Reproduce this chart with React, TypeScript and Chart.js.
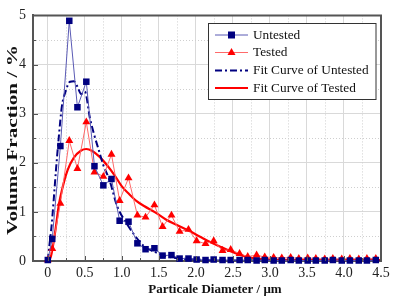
import React, { useEffect, useRef } from "react";
import { Chart, registerables } from "chart.js";

Chart.register(...registerables);

// Particle diameter (µm) sample grid
const xValues = [0.00, 0.06, 0.17, 0.29, 0.40, 0.52, 0.63, 0.75, 0.86, 0.97, 1.09, 1.21, 1.32, 1.44, 1.55, 1.67, 1.78, 1.90, 2.01, 2.13, 2.24, 2.36, 2.47, 2.59, 2.70, 2.82, 2.93, 3.05, 3.16, 3.28, 3.39, 3.51, 3.62, 3.74, 3.85, 3.97, 4.08, 4.20, 4.31, 4.43];
const untestedValues = [0.02, 0.45, 2.34, 4.89, 3.13, 3.65, 1.93, 1.54, 1.67, 0.82, 0.80, 0.36, 0.24, 0.26, 0.11, 0.12, 0.05, 0.05, 0.03, 0.02, 0.03, 0.02, 0.02, 0.02, 0.02, 0.01, 0.02, 0.01, 0.01, 0.02, 0.01, 0.01, 0.01, 0.01, 0.02, 0.01, 0.01, 0.01, 0.01, 0.02];
const testedValues = [0.02, 0.25, 1.17, 2.45, 1.88, 2.83, 1.81, 1.72, 2.17, 1.23, 1.69, 0.93, 0.89, 1.14, 0.70, 0.93, 0.60, 0.64, 0.41, 0.35, 0.41, 0.21, 0.23, 0.15, 0.09, 0.12, 0.08, 0.07, 0.06, 0.07, 0.05, 0.06, 0.05, 0.04, 0.05, 0.04, 0.05, 0.04, 0.05, 0.05];

const fitUntestedX = [0.00, 0.02, 0.05, 0.08, 0.11, 0.15, 0.19, 0.24, 0.30, 0.35, 0.40, 0.45, 0.50, 0.57, 0.63, 0.69, 0.75, 0.83, 0.94, 1.05, 1.16, 1.30, 1.45, 1.60, 1.80, 2.00, 2.50, 3.00, 3.50, 4.00, 4.50];
const fitUntestedY = [0.00, 0.30, 0.70, 1.25, 1.85, 2.55, 3.15, 3.45, 3.65, 3.66, 3.55, 3.40, 3.45, 2.90, 2.55, 2.25, 1.95, 1.66, 1.10, 0.80, 0.55, 0.30, 0.18, 0.10, 0.05, 0.03, 0.01, 0.01, 0.00, 0.00, 0.00];

const fitTestedX = [0.00, 0.04, 0.10, 0.15, 0.20, 0.27, 0.35, 0.45, 0.52, 0.60, 0.70, 0.80, 0.90, 1.00, 1.10, 1.20, 1.30, 1.45, 1.60, 1.75, 1.90, 2.05, 2.20, 2.35, 2.50, 2.65, 2.80, 3.00, 3.50, 4.00, 4.50];
const fitTestedY = [0.00, 0.08, 0.60, 1.15, 1.50, 1.86, 2.10, 2.25, 2.28, 2.24, 2.12, 1.95, 1.75, 1.52, 1.36, 1.22, 1.12, 0.99, 0.84, 0.73, 0.62, 0.50, 0.38, 0.28, 0.18, 0.10, 0.05, 0.03, 0.02, 0.02, 0.02];

const seriesLabels = ["Untested", "Tested", "Fit Curve of Untested", "Fit Curve of Tested"];
const xTitle = "Particale Diameter / \u03bcm";
const yTitle = "Volume Fraction / %";

const SERIF = "'Liberation Serif', 'Times New Roman', serif";
const NAVY = "#000080";
const RED = "#ff0000";

const toPts = (xs: number[], ys: number[]) => xs.map((x, i) => ({ x, y: ys[i] }));

const decorPlugin = {
  id: "decor",
  beforeDatasetsDraw(chart: any) {
    const { ctx, chartArea: a, scales } = chart;
    const xs = scales.x, ys = scales.y;
    ctx.save();
    ctx.strokeStyle = "#cfcfcf";
    ctx.lineWidth = 1;
    ctx.setLineDash([1, 2]);
    for (let v = 0.25; v < 4.5; v += 0.5) {
      const px = Math.round(xs.getPixelForValue(v)) + 0.5;
      ctx.beginPath(); ctx.moveTo(px, a.top); ctx.lineTo(px, a.bottom); ctx.stroke();
    }
    for (let v = 0.5; v < 5; v += 1) {
      const py = Math.round(ys.getPixelForValue(v)) + 0.5;
      ctx.beginPath(); ctx.moveTo(a.left, py); ctx.lineTo(a.right, py); ctx.stroke();
    }
    ctx.restore();
  },
  afterDraw(chart: any) {
    const { ctx, chartArea: a, scales } = chart;
    const xs = scales.x, ys = scales.y;
    ctx.save();
    // inner tick marks
    ctx.strokeStyle = "#555";
    ctx.lineWidth = 1;
    for (let v = 0; v <= 4.5001; v += 0.25) {
      const px = Math.round(xs.getPixelForValue(v)) + 0.5;
      const len = Math.abs(v * 2 - Math.round(v * 2)) < 1e-6 ? 5 : 3;
      ctx.beginPath(); ctx.moveTo(px, a.bottom); ctx.lineTo(px, a.bottom - len); ctx.stroke();
    }
    for (let v = 0.5; v < 5; v += 0.5) {
      const py = Math.round(ys.getPixelForValue(v)) + 0.5;
      const len = Math.abs(v - Math.round(v)) < 1e-6 ? 5 : 3;
      ctx.beginPath(); ctx.moveTo(a.left, py); ctx.lineTo(a.left + len, py); ctx.stroke();
    }
    // top & right frame
    ctx.strokeStyle = "#555";
    ctx.lineWidth = 2;
    ctx.beginPath();
    ctx.moveTo(a.left - 1, a.top);
    ctx.lineTo(a.right, a.top);
    ctx.lineTo(a.right, a.bottom + 1);
    ctx.stroke();

    // axis titles
    ctx.fillStyle = "#111";
    ctx.font = `bold 13px ${SERIF}`;
    ctx.textAlign = "center";
    ctx.textBaseline = "middle";
    ctx.fillText(xTitle, 215, 290);
    ctx.save();
    ctx.translate(13, 140);
    ctx.rotate(-Math.PI / 2);
    ctx.font = `bold 14px ${SERIF}`;
    const w = ctx.measureText(yTitle).width;
    ctx.scale(190 / w, 1);
    ctx.fillText(yTitle, 0, 0);
    ctx.restore();

    // legend
    const bx = 208.5, by = 23.5, bw = 167.5, bh = 76;
    ctx.fillStyle = "#fff";
    ctx.fillRect(bx, by, bw, bh);
    ctx.strokeStyle = "#333";
    ctx.lineWidth = 1;
    ctx.setLineDash([]);
    ctx.strokeRect(bx, by, bw, bh);
    const rows = [35, 52.5, 70.5, 88];
    const datasets = chart.data.datasets;
    datasets.forEach((ds: any, i: number) => {
      const y = rows[i];
      ctx.save();
      ctx.strokeStyle = ds.borderColor;
      ctx.lineWidth = ds.borderWidth;
      ctx.setLineDash(ds.borderDash || []);
      ctx.beginPath(); ctx.moveTo(215, y); ctx.lineTo(248, y); ctx.stroke();
      ctx.setLineDash([]);
      if (ds.pointRadius > 0) {
        ctx.fillStyle = ds.pointBackgroundColor;
        if (ds.pointStyle === "rect") {
          ctx.fillRect(228, y - 3.5, 7, 7);
        } else {
          ctx.beginPath();
          ctx.moveTo(231.5, y - 4.5);
          ctx.lineTo(235.5, y + 2.5);
          ctx.lineTo(227.5, y + 2.5);
          ctx.closePath();
          ctx.fill();
        }
      }
      ctx.restore();
      ctx.fillStyle = "#111";
      ctx.font = `13.3px ${SERIF}`;
      ctx.textAlign = "left";
      ctx.textBaseline = "middle";
      ctx.fillText(ds.label, 253, y + 0.5);
    });
    ctx.restore();
  },
};

export default function App() {
  const ref = useRef<HTMLCanvasElement | null>(null);
  useEffect(() => {
    if (!ref.current) return;
    const chart = new Chart(ref.current, {
      type: "line",
      data: {
        datasets: [
          {
            label: seriesLabels[0],
            data: toPts(xValues, untestedValues),
            borderColor: "#5a5ab4",
            borderWidth: 1,
            pointStyle: "rect",
            pointRadius: 4.6,
            pointBackgroundColor: NAVY,
            pointBorderColor: NAVY,
            pointBorderWidth: 0,
            tension: 0,
            clip: false,
          } as any,
          {
            label: seriesLabels[1],
            data: toPts(xValues, testedValues),
            borderColor: "#ff6a6a",
            borderWidth: 1,
            pointStyle: "triangle",
            pointRadius: 4.6,
            pointBackgroundColor: RED,
            pointBorderColor: RED,
            pointBorderWidth: 0,
            tension: 0,
            clip: false,
          } as any,
          {
            label: seriesLabels[2],
            data: toPts(fitUntestedX, fitUntestedY),
            borderColor: NAVY,
            borderWidth: 2,
            borderDash: [7, 3, 2, 3],
            pointRadius: 0,
            cubicInterpolationMode: "monotone",
          } as any,
          {
            label: seriesLabels[3],
            data: toPts(fitTestedX, fitTestedY),
            borderColor: RED,
            borderWidth: 2.2,
            pointRadius: 0,
            cubicInterpolationMode: "monotone",
          } as any,
        ],
      },
      options: {
        responsive: false,
        animation: false,
        events: [],
        layout: { padding: { top: 7, right: 14, left: 0, bottom: 0 } },
        plugins: { legend: { display: false }, tooltip: { enabled: false }, title: { display: false } },
        scales: {
          x: {
            type: "linear",
            min: -0.2,
            max: 4.5,
            afterFit: (s: any) => { s.height = 39; },
            ticks: {
              stepSize: 0.5,
              includeBounds: false,
              padding: 4,
              color: "#222",
              font: { family: SERIF, size: 14 },
              maxRotation: 0,
              callback: (v: any) => (Number(v) === 0 ? "0" : Number(v).toFixed(1)),
            },
            grid: { color: "#d9d9d9", lineWidth: 1, drawTicks: false },
            border: { color: "#555", width: 2 },
          },
          y: {
            type: "linear",
            min: 0,
            max: 5,
            afterFit: (s: any) => { s.width = 33; },
            ticks: {
              stepSize: 1,
              padding: 7,
              color: "#222",
              font: { family: SERIF, size: 14 },
              callback: (v: any) => String(v),
            },
            grid: { color: "#d9d9d9", lineWidth: 1, drawTicks: false },
            border: { color: "#555", width: 2 },
          },
        },
      } as any,
      plugins: [decorPlugin],
    });
    return () => chart.destroy();
  }, []);
  return (
    <div style={{ position: "absolute", left: 0, top: 0, width: 395, height: 300, background: "#fff" }}>
      <canvas ref={ref} width={395} height={300} style={{ display: "block", width: 395, height: 300 }} />
    </div>
  );
}
